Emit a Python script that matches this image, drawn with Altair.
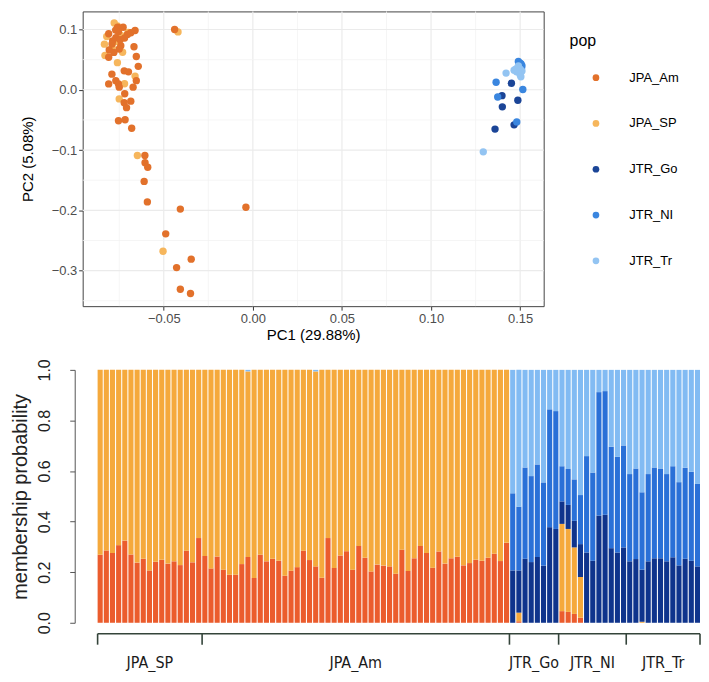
import altair as alt
import pandas as pd

# ------------------------------------------------------------------ PCA data
pop_names = ["JPA_Am", "JPA_SP", "JTR_Go", "JTR_NI", "JTR_Tr"]
pop_colors = ["#E2712B", "#F6B65C", "#1B4597", "#3A86DF", "#93C4F2"]

sp_pc1 = [-0.0833, -0.0820, -0.0778, -0.0760, -0.0731, -0.0830, -0.0750, -0.0661, -0.0648,
          -0.0420, -0.0504, -0.0770, -0.0740, -0.0790, -0.0720, -0.0700, -0.0760]
sp_pc2 = [0.0757, 0.0885, 0.1108, 0.1060, 0.0622, 0.0570, -0.0151, 0.0227, -0.1090,
          0.0960, -0.2680, 0.0800, 0.0900, 0.0700, 0.0100, 0.0950, 0.0450]

am_pc1 = [-0.0809, -0.0759, -0.0728, -0.0754, -0.0787, -0.0806, -0.0809, -0.0769, -0.0741, -0.0750,
          -0.0704, -0.0685, -0.0661, -0.0667, -0.0654, -0.0643, -0.0722, -0.0698, -0.0791, -0.0809,
          -0.0769, -0.0754, -0.0750, -0.0654, -0.0672, -0.0719, -0.0722, -0.0709, -0.0685, -0.0754,
          -0.0717, -0.0680, -0.0439, -0.0606, -0.0605, -0.0590, -0.0610, -0.0592, -0.0407, -0.0039,
          -0.0489, -0.0346, -0.0428, -0.0407, -0.0350, -0.0770, -0.0745, -0.0790, -0.0720, -0.0780]
am_pc2 = [0.0930, 0.1038, 0.1038, 0.0962, 0.0811, 0.0660, 0.0540, 0.0865, 0.0730, 0.0676,
          0.0919, 0.0946, 0.0984, 0.0714, 0.0551, 0.0389, 0.0314, 0.0297, 0.0259, 0.0097,
          0.0151, 0.0097, 0.0043, 0.0151, 0.0043, -0.0065, -0.0216, -0.0297, -0.0189, -0.0514,
          -0.0497, -0.0638, 0.1000, -0.1090, -0.1210, -0.1285, -0.1520, -0.1860, -0.1980, -0.1950,
          -0.2390, -0.2810, -0.2950, -0.3310, -0.3380, 0.0990, 0.0830, 0.0760, 0.0860, 0.0620]

go_pc1 = [0.1451, 0.1398, 0.1487, 0.1400, 0.1359, 0.1466, 0.1495, 0.1502]
go_pc2 = [0.0109, -0.0098, -0.0174, -0.0283, -0.0652, -0.0582, 0.0420, 0.0380]

ni_pc1 = [0.1490, 0.1510, 0.1365, 0.1515, 0.1374, 0.1481, 0.1500, 0.1505, 0.1493, 0.1508, 0.1497]
ni_pc2 = [0.0470, 0.0400, 0.0125, 0.0005, -0.0120, -0.0533, 0.0440, 0.0430, 0.0350, 0.0360, 0.0400]

tr_pc1 = [0.1293, 0.1421, 0.1466, 0.1490, 0.1500, 0.1504, 0.1480, 0.1495, 0.1510, 0.1485, 0.1500, 0.1475]
tr_pc2 = [-0.1030, 0.0277, 0.0326, 0.0397, 0.0342, 0.0217, 0.0300, 0.0290, 0.0310, 0.0360, 0.0250, 0.0340]

x_major = [-0.05, 0.0, 0.05, 0.10, 0.15]
x_minor = [-0.075, -0.025, 0.025, 0.075, 0.125]
y_major = [-0.3, -0.2, -0.1, 0.0, 0.1]
y_minor = [-0.35, -0.25, -0.15, -0.05, 0.05]

# ------------------------------------------------------------------ admixture data
group_names = ["JPA_SP", "JPA_Am", "JTR_Go", "JTR_NI", "JTR_Tr"]
group_sizes = [17, 50, 8, 11, 12]

# top of the red component for the 67 JPA individuals (rest is orange)
jpa_red_top = [0.269, 0.286, 0.276, 0.307, 0.325, 0.270, 0.238, 0.253, 0.207, 0.241,
               0.249, 0.234, 0.243, 0.228, 0.285, 0.239, 0.335,
               0.264, 0.215, 0.262, 0.210, 0.190, 0.190, 0.232, 0.260, 0.177, 0.269,
               0.243, 0.253, 0.245, 0.186, 0.206, 0.220, 0.285, 0.248, 0.223, 0.178,
               0.335, 0.217, 0.266, 0.283, 0.210, 0.304, 0.257, 0.203, 0.230, 0.226,
               0.223, 0.194, 0.289, 0.205, 0.255, 0.304, 0.276, 0.218, 0.282, 0.234,
               0.255, 0.261, 0.227, 0.236, 0.249, 0.245, 0.257, 0.273, 0.244, 0.316]
# small light-blue slivers on top of a few JPA bars (index: size)
jpa_blue_sliver = {24: 0.006, 35: 0.006}

# cumulative boundaries for the 31 JTR individuals
jtr_red_top = [0, 0.006, 0, 0, 0, 0, 0, 0,
               0.046, 0.043, 0.035, 0.020, 0, 0, 0, 0, 0, 0, 0,
               0, 0, 0, 0, 0, 0, 0, 0, 0, 0, 0, 0]
jtr_orange_top = [0, 0.040, 0, 0, 0, 0, 0, 0,
                  0.391, 0.371, 0.298, 0.181, 0, 0, 0, 0, 0, 0, 0,
                  0, 0, 0.004, 0, 0, 0, 0, 0, 0, 0, 0, 0]
jtr_dark_top = [0.207, 0.207, 0.253, 0.240, 0.260, 0.226, 0.378, 0.371,
                0.480, 0.466, 0.403, 0.311, 0.278, 0.245, 0.424, 0.427, 0.295, 0.278, 0.298,
                0.243, 0.252, 0.210, 0.243, 0.255, 0.255, 0.243, 0.259, 0.227, 0.253, 0.245, 0.223]
jtr_mid_top = [0.512, 0.459, 0.614, 0.580, 0.626, 0.555, 0.844, 0.837,
               0.619, 0.608, 0.567, 0.505, 0.659, 0.594, 0.912, 0.916, 0.696, 0.656, 0.701,
               0.588, 0.610, 0.516, 0.588, 0.614, 0.610, 0.588, 0.619, 0.556, 0.613, 0.597, 0.549]

comp_names = ["K1", "K2", "K3", "K4", "K5"]
comp_colors = ["#EB5C2D", "#F5A93C", "#0F348C", "#2A70D7", "#82BBF3"]

# ------------------------------------------------------------------ tables
rows = []
for pop, xs, ys in [("JPA_SP", sp_pc1, sp_pc2), ("JPA_Am", am_pc1, am_pc2),
                    ("JTR_Go", go_pc1, go_pc2), ("JTR_NI", ni_pc1, ni_pc2),
                    ("JTR_Tr", tr_pc1, tr_pc2)]:
    for a, b in zip(xs, ys):
        rows.append({"pop": pop, "PC1": a, "PC2": b})
pca = pd.DataFrame(rows)
pca["ord"] = range(len(pca))

bounds = []
for i, r in enumerate(jpa_red_top):
    top = 1.0 - jpa_blue_sliver.get(i, 0.0)
    bounds.append([0.0, r, top, top, top, 1.0])
for r, o, d, m in zip(jtr_red_top, jtr_orange_top, jtr_dark_top, jtr_mid_top):
    bounds.append([0.0, r, max(o, r), d, m, 1.0])

bar_rows = []
for i, b in enumerate(bounds):
    for k in range(5):
        if b[k + 1] > b[k]:
            bar_rows.append({"id": i, "comp": comp_names[k], "lo": b[k], "hi": b[k + 1]})
bar_df = pd.DataFrame(bar_rows)

edges = [0]
for s in group_sizes:
    edges.append(edges[-1] + s)
n_ind = edges[-1]
grp_df = pd.DataFrame({"name": group_names,
                       "mid": [(edges[i] + edges[i + 1]) / 2 for i in range(len(group_names))]})
edge_df = pd.DataFrame({"b": edges})
line_df = pd.DataFrame({"s": [0], "e": [n_ind]})

# ------------------------------------------------------------------ top: PCA
font = "Liberation Sans"
W1, H1 = 463, 296
xsc = alt.Scale(domain=[-0.0955, 0.1632], nice=False, zero=False)
ysc = alt.Scale(domain=[-0.359, 0.130], nice=False, zero=False)

x_axis = alt.Axis(values=x_major, format=".2f", title="PC1 (29.88%)", grid=False, domain=False,
                  tickColor="#333333", tickSize=4, labelColor="#4D4D4D", labelFontSize=13,
                  labelFont=font, labelPadding=2, labelFlush=False, titleFont=font,
                  titleFontSize=15, titleFontWeight="normal", titleColor="#000000", titlePadding=3)
y_axis = alt.Axis(values=y_major, format=".1f", title="PC2 (5.08%)", grid=False, domain=False,
                  tickColor="#333333", tickSize=4, labelColor="#4D4D4D", labelFontSize=13,
                  labelFont=font, labelPadding=2, titleFont=font, titleFontSize=15,
                  titleFontWeight="normal", titleColor="#000000", titlePadding=16)

vmin = alt.Chart(pd.DataFrame({"v": x_minor})).mark_rule(color="#F2F2F2", strokeWidth=0.8).encode(
    x=alt.X("v:Q", scale=xsc, axis=x_axis))
vmaj = alt.Chart(pd.DataFrame({"v": x_major})).mark_rule(color="#EBEBEB", strokeWidth=1.2).encode(
    x=alt.X("v:Q", scale=xsc, axis=x_axis))
hmin = alt.Chart(pd.DataFrame({"v": y_minor})).mark_rule(color="#F2F2F2", strokeWidth=0.8).encode(
    y=alt.Y("v:Q", scale=ysc, axis=y_axis))
hmaj = alt.Chart(pd.DataFrame({"v": y_major})).mark_rule(color="#EBEBEB", strokeWidth=1.2).encode(
    y=alt.Y("v:Q", scale=ysc, axis=y_axis))

pts = alt.Chart(pca).mark_circle(size=55, opacity=1).encode(
    x=alt.X("PC1:Q", scale=xsc, axis=x_axis),
    y=alt.Y("PC2:Q", scale=ysc, axis=y_axis),
    color=alt.Color("pop:N", scale=alt.Scale(domain=pop_names, range=pop_colors),
                    legend=alt.Legend(title="pop", orient="none", legendX=489, legendY=22,
                                      titleFont=font, titleFontSize=16, titleFontWeight="normal",
                                      titleColor="#000000", titlePadding=22,
                                      labelFont=font, labelFontSize=13, labelColor="#000000",
                                      symbolType="circle", symbolSize=45, symbolOffset=20,
                                      labelOffset=27, rowPadding=32, padding=0,
                                      symbolStrokeWidth=0)),
    order=alt.Order("ord:Q"),
)

top = alt.layer(vmin, vmaj, hmin, hmaj, pts).properties(
    width=W1, height=H1, view=alt.ViewBackground(stroke="#444444", strokeWidth=1))

# ------------------------------------------------------------------ bottom: admixture bars
W2, H2 = 620, 254
band = alt.Scale(range=[15, W2], paddingInner=0.17, paddingOuter=0)
qsc = alt.Scale(domain=[0, n_ind], range=[15, W2], nice=False, zero=False)

yb_axis = alt.Axis(values=[0, 0.2, 0.4, 0.6, 0.8, 1.0], format=".1f", title="membership probability",
                   offset=8, grid=False, domainColor="#555555", tickColor="#555555", tickSize=5,
                   labelAngle=270, labelAlign="center", labelBaseline="bottom",
                   labelFont=font, labelFontSize=16, labelColor="#222222", labelPadding=17,
                   titleFont=font, titleFontSize=20, titleFontWeight="normal",
                   titleColor="#222222", titlePadding=6)

bars = alt.Chart(bar_df).mark_bar().encode(
    x=alt.X("id:O", scale=band, axis=None),
    y=alt.Y("lo:Q", scale=alt.Scale(domain=[0, 1], nice=False), axis=yb_axis),
    y2="hi:Q",
    color=alt.Color("comp:N", scale=alt.Scale(domain=comp_names, range=comp_colors), legend=None),
)

bcol = "#34443A"
hline = alt.Chart(line_df).mark_rule(color=bcol, strokeWidth=1.6).encode(
    x=alt.X("s:Q", scale=qsc, axis=None), x2="e:Q", y=alt.value(H2 + 11))
vticks = alt.Chart(edge_df).mark_rule(color=bcol, strokeWidth=1.6).encode(
    x=alt.X("b:Q", scale=qsc, axis=None), y=alt.value(H2 + 11), y2=alt.value(H2 + 22))
glabels = alt.Chart(grp_df).mark_text(font="DejaVu Sans Condensed", fontSize=16, color="#1A1A1A",
                                      baseline="middle").encode(
    x=alt.X("mid:Q", scale=qsc, axis=None), y=alt.value(H2 + 40), text="name:N")

bottom = alt.layer(bars, hline, vticks, glabels).resolve_scale(x="independent").properties(
    width=W2, height=H2)

chart = alt.vconcat(top, bottom, spacing=14).resolve_scale(color="independent").properties(
    padding={"left": 3, "top": 0, "right": 0, "bottom": 0}, background="white"
).configure_view(strokeWidth=0)

chart.save("out.html", embed_options={"renderer": "svg", "actions": False})
